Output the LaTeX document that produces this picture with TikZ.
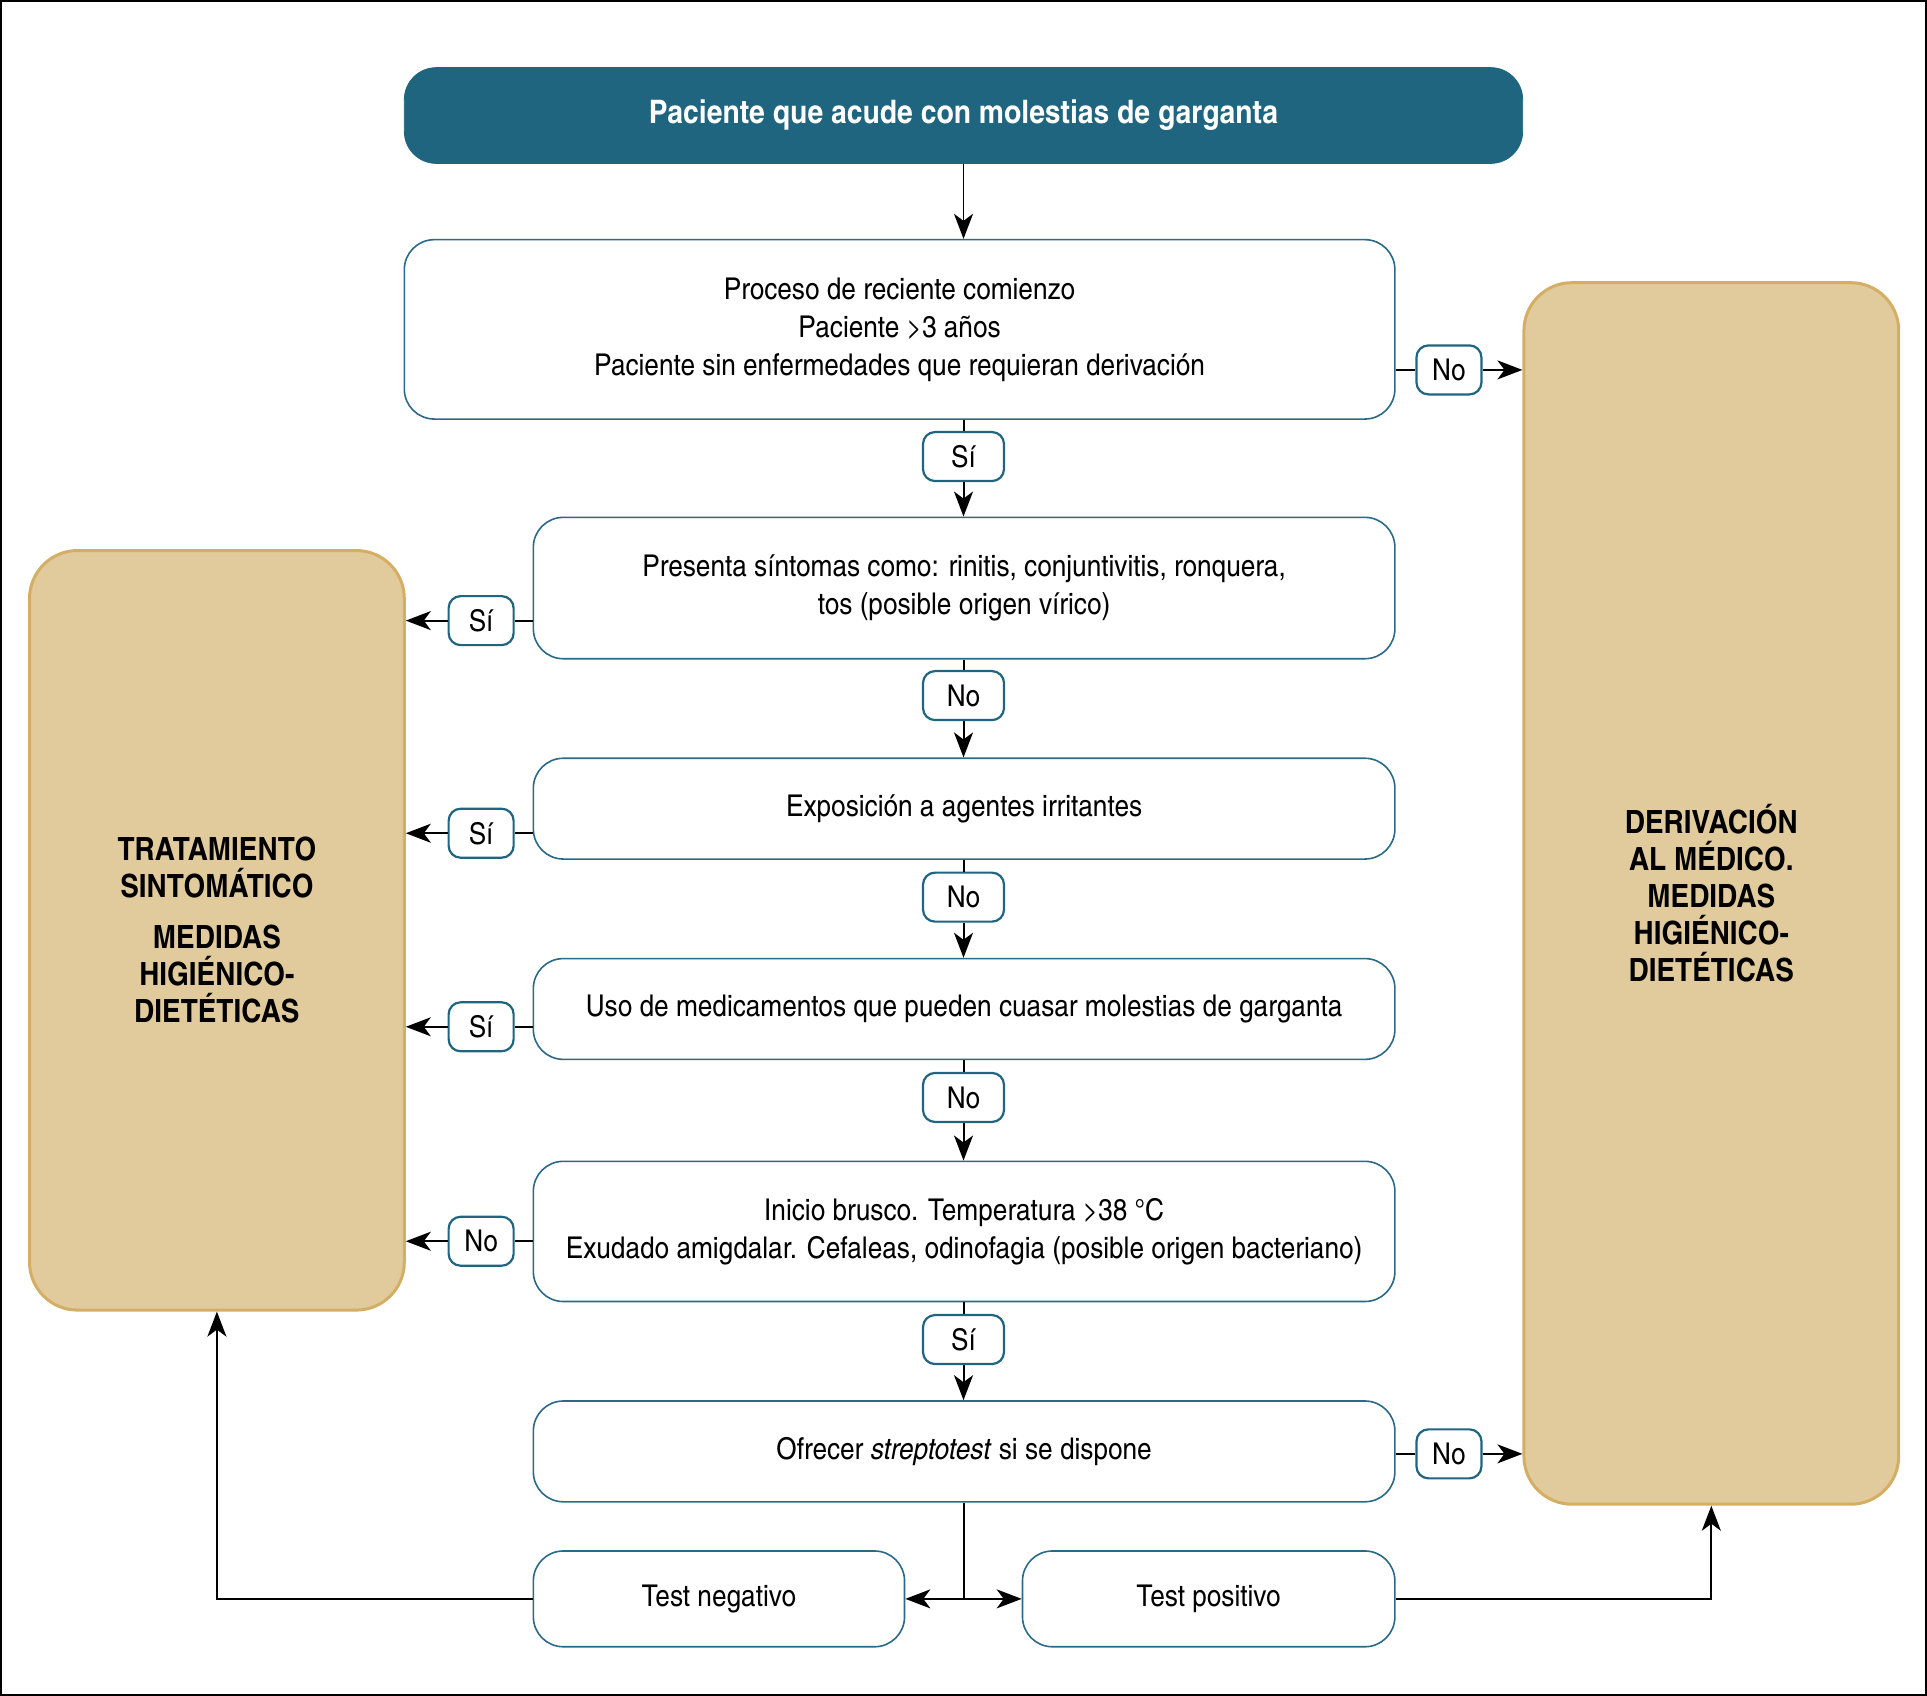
\documentclass[tikz,border=0pt]{standalone}
\usepackage{fontspec}
\setmainfont{texgyreheroscn}[Extension=.otf, UprightFont=*-regular, BoldFont=*-bold, ItalicFont=*-italic, BoldItalicFont=*-bolditalic, FakeStretch=1.065]
\usetikzlibrary{arrows.meta,calc}
\definecolor{tealc}{RGB}{31,101,128}
\definecolor{boxline}{RGB}{42,106,136}
\definecolor{tanfill}{RGB}{225,203,156}
\definecolor{tanline}{RGB}{212,174,100}
\begin{document}
\begin{tikzpicture}[x=0.6145pt,y=-0.6145pt,
  qbox/.style={draw=boxline, line width=0.8pt, rounded corners=15pt, fill=white, align=center,
    font=\fontsize{15}{19}\selectfont, inner sep=0pt, minimum width=430.8pt},
  topbox/.style={fill=tealc, draw=tealc, rounded corners=16pt, text=white, inner sep=0pt,
    font=\bfseries\fontsize{16.2}{19}\selectfont, minimum width=559.2pt, minimum height=47.9pt},
  tanbox/.style={fill=tanfill, draw=tanline, line width=1.5pt, rounded corners=24pt, align=center,
    font=\bfseries\fontsize{16}{18.5}\selectfont, inner sep=0pt, minimum width=187.4pt},
  lab/.style={draw=tealc, line width=1.1pt, rounded corners=6pt, fill=white, inner sep=0pt,
    font=\fontsize{15}{18}\selectfont, minimum height=24.5pt},
  clab/.style={lab, minimum width=40.5pt},
  slab/.style={lab, minimum width=32.5pt},
  conn/.style={line width=1pt},
  arr/.style={line width=1pt, -{Stealth[length=12.5pt,width=9.5pt,inset=3.5pt]}}
]
\useasboundingbox (0,0) rectangle (1568,1380);
\draw[line width=1pt] (0.8,0.8) rectangle (1567.2,1379.2);

% main boxes
\node[topbox] (top) at (784,94) {Paciente que acude con molestias de garganta};
\node[qbox, minimum width=495.3pt, minimum height=89.7pt] (b1) at (732,268)
  {Proceso de reciente comienzo\\Paciente >3 años\\Paciente sin enfermedades que requieran derivación};
\node[qbox, minimum height=70.7pt] (b2) at (784.5,478.5)
  {Presenta síntomas como: rinitis, conjuntivitis, ronquera,\\tos (posible origen vírico)};
\node[qbox, minimum height=50.4pt] (b3) at (784.5,658) {Exposición a agentes irritantes};
\node[qbox, minimum height=50.4pt] (b4) at (784.5,821) {Uso de medicamentos que pueden cuasar molestias de garganta};
\node[qbox, minimum height=70.1pt] (b5) at (784.5,1002)
  {Inicio brusco. Temperatura >38 °C\\Exudado amigdalar. Cefaleas, odinofagia (posible origen bacteriano)};
\node[qbox, minimum height=50.4pt] (b6) at (784.5,1181) {Ofrecer \textit{streptotest} si se dispone};
\node[qbox, minimum width=185.6pt, minimum height=47.9pt] (neg) at (585,1301) {Test negativo};
\node[qbox, minimum width=186.2pt, minimum height=47.9pt] (pos) at (983.5,1301) {Test positivo};

\node[tanbox, minimum height=379.8pt] (lbox) at (176.5,757)
  {TRATAMIENTO\\SINTOMÁTICO\\[7pt]MEDIDAS\\HIGIÉNICO-\\DIETÉTICAS};
\node[tanbox, minimum height=610.8pt] (rbox) at (1392.5,727)
  {DERIVACIÓN\\AL MÉDICO.\\MEDIDAS\\HIGIÉNICO-\\DIETÉTICAS};

% labels
\node[slab] (l1) at (1179,301) {No};
\node[clab] (l2) at (784,371.5) {Sí};
\node[slab] (l3) at (391.5,505) {Sí};
\node[clab] (l4) at (784,566) {No};
\node[slab] (l5) at (391.5,678) {Sí};
\node[clab] (l6) at (784,730) {No};
\node[slab] (l7) at (391.5,835.5) {Sí};
\node[clab] (l8) at (784,893) {No};
\node[slab] (l9) at (391.5,1010) {No};
\node[clab] (l10) at (784,1090) {Sí};
\node[slab] (l11) at (1179,1183) {No};

% connectors
\draw[arr, line width=0.8pt] (top.south) -- (top.south |- b1.north);

\draw[conn] (b1.east |- l1) -- (l1.west);
\draw[arr] (l1.east) -- (l1 -| rbox.west);
\draw[conn] (l2 |- b1.south) -- (l2.north);
\draw[arr] (l2.south) -- (l2 |- b2.north);

\draw[conn] (b2.west |- l3) -- (l3.east);
\draw[arr] (l3.west) -- (l3 -| lbox.east);
\draw[conn] (l4 |- b2.south) -- (l4.north);
\draw[arr] (l4.south) -- (l4 |- b3.north);

\draw[conn] (b3.west |- l5) -- (l5.east);
\draw[arr] (l5.west) -- (l5 -| lbox.east);
\draw[conn] (l6 |- b3.south) -- (l6.north);
\draw[arr] (l6.south) -- (l6 |- b4.north);

\draw[conn] (b4.west |- l7) -- (l7.east);
\draw[arr] (l7.west) -- (l7 -| lbox.east);
\draw[conn] (l8 |- b4.south) -- (l8.north);
\draw[arr] (l8.south) -- (l8 |- b5.north);

\draw[conn] (b5.west |- l9) -- (l9.east);
\draw[arr] (l9.west) -- (l9 -| lbox.east);
\draw[conn] (l10 |- b5.south) -- (l10.north);
\draw[arr] (l10.south) -- (l10 |- b6.north);

\draw[conn] (b6.east |- l11) -- (l11.west);
\draw[arr] (l11.east) -- (l11 -| rbox.west);

\coordinate (jn) at (b6.south |- neg.east);
\draw[conn] (b6.south) -- (jn);
\draw[arr] (jn) -- (neg.east);
\draw[arr] (jn) -- (pos.west);
\draw[arr] (neg.west) -| (lbox.south);
\draw[arr] (pos.east) -| (rbox.south);
\end{tikzpicture}
\end{document}
